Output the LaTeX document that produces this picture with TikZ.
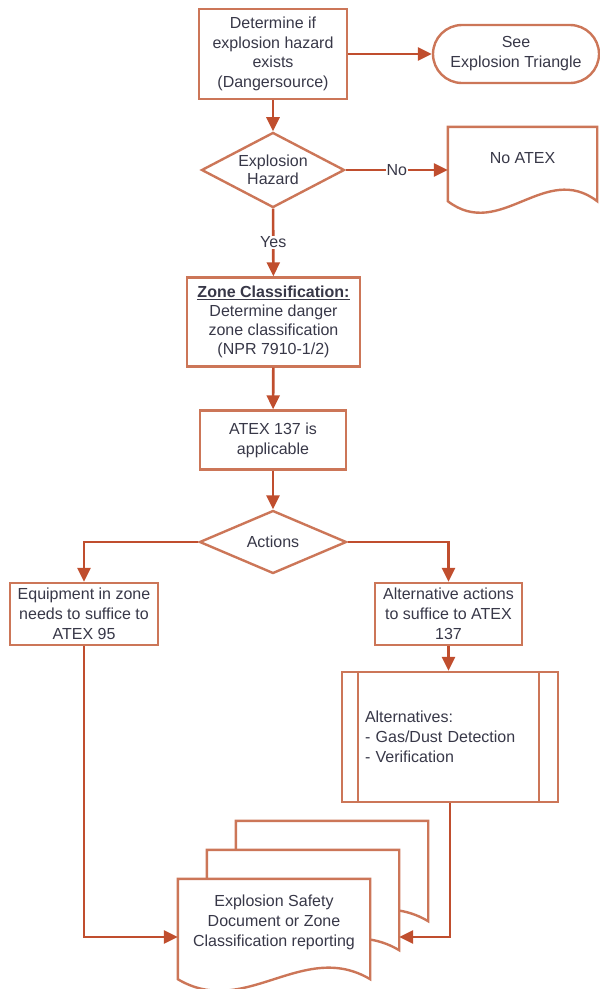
\documentclass[tikz,border=0pt]{standalone}
\usepackage{fontspec}
\setmainfont{Liberation Sans}
\usetikzlibrary{arrows.meta,shapes.geometric,calc}
\definecolor{boxline}{RGB}{204,118,88}
\definecolor{flowline}{RGB}{192,78,46}
\definecolor{inktext}{RGB}{56,56,72}
% document shape: node name, extra depth of the wave, wave amplitude
\newcommand{\wavedoc}[4][]{%
  \draw[docline,#1] let \p1=(#2.north west), \p2=(#2.south east), \n1={\x2-\x1} in
    (\p1) -- (\x2,\y1) -- (\x2,\y2-#3)
    .. controls (\x2-0.35*\n1,\y2-#3+#4) and (\x2-0.65*\n1,\y2-#3-#4) .. (\x1,\y2-#3) -- cycle;}
\begin{document}
\begin{tikzpicture}[x=1pt,y=-1pt,
  font=\fontsize{16}{20}\selectfont,
  every node/.style={text=inktext},
  procbox/.style={draw=boxline,line width=2.4pt,fill=white,align=center,inner sep=0pt},
  termbox/.style={procbox,rounded corners=29pt},
  choice/.style={diamond,draw=boxline,line width=2.4pt,fill=white,align=center,inner sep=-6pt},
  docnode/.style={align=center,inner sep=0pt,minimum width=192pt,minimum height=86pt},
  docline/.style={draw=boxline,line width=2.4pt},
  procline/.style={draw=boxline,line width=2.4pt},
  arr/.style={draw=flowline,line width=2.6pt,-{Triangle[length=14pt,width=13pt]}},
  lbl/.style={fill=white,inner sep=1pt}]
  \useasboundingbox (0,0) rectangle (600,989);
  % top part
  \node[procbox,minimum width=148pt,minimum height=90pt,font=\fontsize{16}{19.5}\selectfont] (determine) at (273,54)
    {Determine if\\explosion hazard\\exists\\(Dangersource)};
  \node[termbox,minimum width=166pt,minimum height=58pt] (triangle) at (516,54) {See\\Explosion Triangle};
  \node[choice,minimum width=143pt,minimum height=70pt,font=\fontsize{16}{18}\selectfont] (hazard) at (273,170)
    {Explosion\\Hazard};
  \node[docnode,minimum width=149pt,minimum height=62pt] (noatex) at (522.5,158) {No ATEX};
  \wavedoc{noatex}{12pt}{40pt}
  % middle part
  \node[procbox,minimum width=173pt,minimum height=89pt,font=\fontsize{16}{19}\selectfont] (zone) at (273.5,322)
    {\textbf{\underline{Zone Classification:}}\\Determine danger\\zone classification\\(NPR 7910-1/2)};
  \node[procbox,minimum width=146pt,minimum height=59pt] (atex) at (273,440) {ATEX 137 is\\applicable};
  \node[choice,minimum width=147pt,minimum height=63pt] (actions) at (273,542) {Actions};
  \node[procbox,minimum width=148pt,minimum height=62pt] (equip) at (84,614)
    {Equipment in zone\\needs to suffice to\\ATEX 95};
  \node[procbox,minimum width=147pt,minimum height=62pt] (altact) at (448.5,614)
    {Alternative actions\\to suffice to ATEX\\137};
  \node[procbox,align=left,text width=170pt,inner xsep=23pt,minimum height=130pt] (alts) at (450,737)
    {Alternatives:\\- Gas/Dust Detection\\- Verification};
  \draw[procline] ([xshift=17pt]alts.north west) -- ([xshift=17pt]alts.south west);
  \draw[procline] ([xshift=-20pt]alts.north east) -- ([xshift=-20pt]alts.south east);
  % stack of documents
  \node[docnode] (backdoc) at (332,864) {};
  \wavedoc[fill=white]{backdoc}{14pt}{40pt}
  \node[docnode] (middoc) at (303,893) {};
  \wavedoc[fill=white]{middoc}{14pt}{40pt}
  \node[docnode,fill=white] (report) at (274,922)
    {Explosion Safety\\Document or Zone\\Classification reporting};
  \wavedoc{report}{14pt}{40pt}
  \coordinate (rptin) at ([yshift=-15pt]report.west);
  % connectors
  \draw[arr] (determine) -- (triangle);
  \draw[arr] (determine) -- (hazard);
  \draw[arr] (hazard.east) -- node[lbl]{No} (hazard.east -| noatex.west);
  \draw[arr] (hazard) -- node[lbl]{Yes} (zone);
  \draw[arr] (zone) -- (atex);
  \draw[arr] (atex) -- (actions);
  \draw[arr] (actions.west) -| (equip.north);
  \draw[arr] (actions.east) -| (altact.north);
  \draw[arr] (altact.south) -- (altact.south |- alts.north);
  \draw[arr] (equip.south) |- (rptin);
  \draw[arr] (alts.south) |- (rptin -| middoc.east);
\end{tikzpicture}
\end{document}
